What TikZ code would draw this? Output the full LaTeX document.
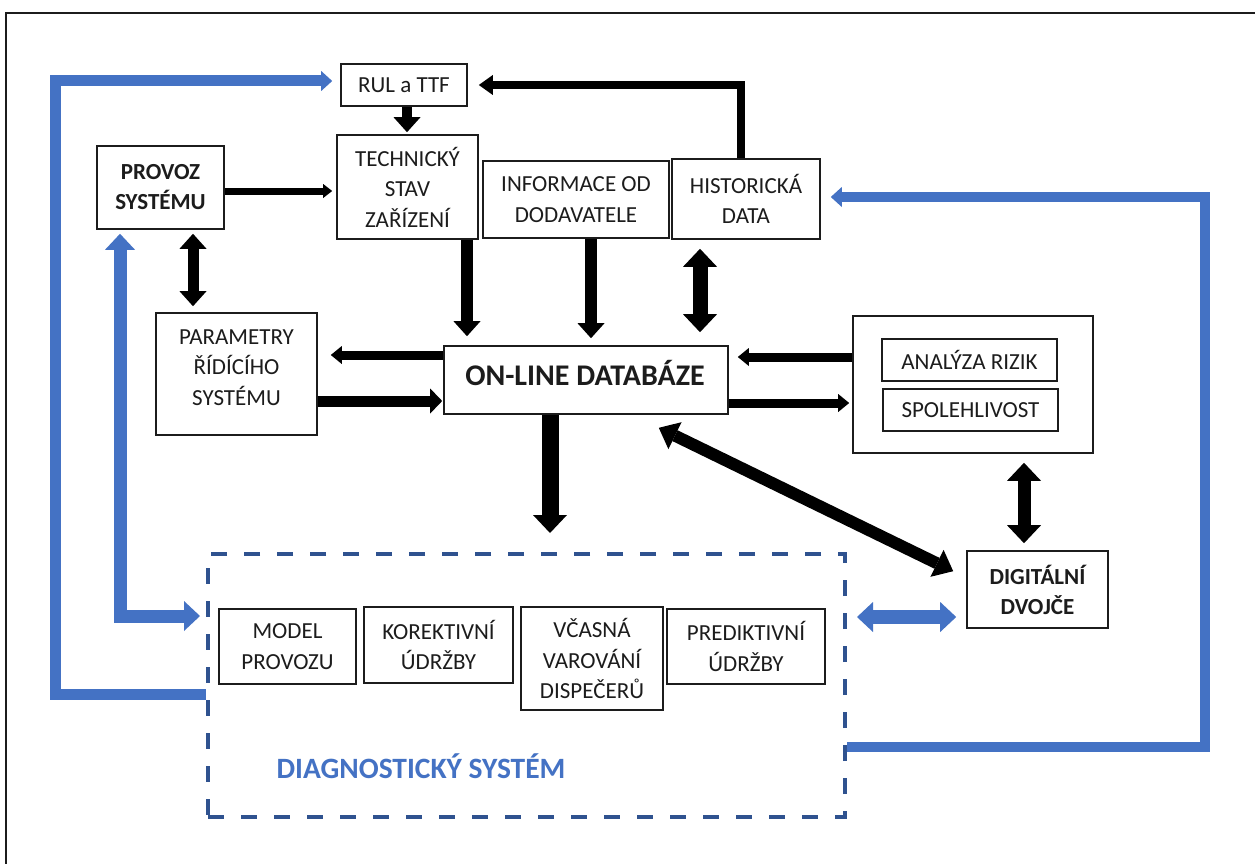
\documentclass[tikz,border=0pt]{standalone}
\usepackage{fontspec}
\setmainfont{Carlito}
\usetikzlibrary{arrows.meta,calc}
\definecolor{ofblue}{RGB}{68,114,196}
\definecolor{dashblue}{RGB}{47,82,143}
\definecolor{ink}{RGB}{28,28,28}

\tikzset{
  hd small/.tip={Triangle[length=9pt,width=14pt,line width=0pt]},
  hd hr/.tip={Triangle[length=14pt,width=20pt,line width=0pt]},
  hd mid/.tip={Triangle[length=15pt,width=27pt,line width=0pt]},
  hd big/.tip={Triangle[length=18pt,width=34pt,line width=0pt]},
  hd diag/.tip={Triangle[length=18pt,width=30pt,line width=0pt]},
  hd side/.tip={Triangle[length=11pt,width=18pt,line width=0pt]},
  hd sidewide/.tip={Triangle[length=12pt,width=25pt,line width=0pt]},
  hd blue/.tip={Triangle[length=11pt,width=20pt,line width=0pt]},
  hd bluebig/.tip={Triangle[length=16pt,width=30pt,line width=0pt]},
}

\begin{document}
\begin{tikzpicture}[x=1pt,y=-1pt,
  txt/.style={inner sep=0pt, align=center, text=ink, font=\fontsize{23}{30.5}\selectfont},
  box/.style={txt, draw=ink, line width=1.6pt, fill=white},
  boldbox/.style={box, font=\fontsize{23}{30}\selectfont\bfseries},
  groupbox/.style={draw=dashblue, line width=4pt, dash pattern=on 16pt off 17pt},
  bk/.style={draw=black, line width=#1},
  bl/.style={draw=ofblue, line width=#1},
]
\useasboundingbox (0,0) rectangle (1255,864);
\fill[white] (0,0) rectangle (1255,864);

% frame along the top and left edges
\draw[ink, line width=2.5pt] (6,864) -- (6,13) -- (1255,13);

% upper row
\node[box, minimum width=126pt, minimum height=42pt] (rul) at (404,85) {RUL a TTF};
\node[box, minimum width=141pt, minimum height=104pt] (tech) at (407.5,187) {TECHNICKÝ\\STAV\\ZAŘÍZENÍ};
\node[boldbox, minimum width=127pt, minimum height=83pt] (provoz) at (160.5,187.5) {PROVOZ\\SYSTÉMU};
\node[box, minimum width=186pt, minimum height=77pt] (info) at (576,199.5) {INFORMACE OD\\DODAVATELE};
\node[box, minimum width=148pt, minimum height=80pt] (hist) at (746,199) {HISTORICKÁ\\DATA};

% middle row
\node[box, minimum width=161pt, minimum height=122pt] (param) at (236.5,374) {};
\node[txt] (paramtext) at (236.5,367.5) {PARAMETRY\\ŘÍDÍCÍHO\\SYSTÉMU};
\node[box, minimum width=284pt, minimum height=68pt] (db) at (586,380) {};
\node[txt, font=\fontsize{30}{35}\selectfont\bfseries] (dbtext) at (585,373) {ON-LINE DATABÁZE};
\node[box, minimum width=240pt, minimum height=137pt] (risk) at (973,384.5) {};
\node[box, minimum width=175pt, minimum height=42pt] (analyza) at (969.5,360) {ANALÝZA RIZIK};
\node[box, minimum width=175pt, minimum height=42pt] (spol) at (970.5,410) {SPOLEHLIVOST};
\node[boldbox, minimum width=141pt, minimum height=77pt] (digi) at (1037.5,589.5) {DIGITÁLNÍ\\DVOJČE};

% diagnostic system group
\node[groupbox, minimum width=637pt, minimum height=263pt, inner sep=0pt] (diag) at (526.5,685.5) {};
\node[box, minimum width=137pt, minimum height=75pt] (model) at (287.5,646.5) {MODEL\\PROVOZU};
\node[box, minimum width=149pt, minimum height=76pt] (korekt) at (438.5,645) {KOREKTIVNÍ\\ÚDRŽBY};
\node[box, minimum width=142pt, minimum height=103pt] (vcasna) at (592,658.5) {VČASNÁ\\VAROVÁNÍ\\DISPEČERŮ};
\node[box, minimum width=158pt, minimum height=75pt] (predikt) at (746,646.5) {PREDIKTIVNÍ\\ÚDRŽBY};
\node[txt, text=ofblue, font=\fontsize{29.5}{35}\selectfont\bfseries] (diagtitle) at (421,766) {DIAGNOSTICKÝ SYSTÉM};

% guide coordinates for the connectors
\coordinate (xHR) at (741,0);
\coordinate (xRT) at (407,0);
\coordinate (yPT) at (0,191);
\coordinate (xPP) at (193,0);
\coordinate (xTD) at (467,0);
\coordinate (xID) at (591,0);
\coordinate (xHD) at (700,0);
\coordinate (yDP) at (0,355);
\coordinate (yPD) at (0,401);
\coordinate (yRD) at (0,357);
\coordinate (yDR) at (0,403);
\coordinate (xDG) at (550,0);
\coordinate (xRG) at (1024,0);
\coordinate (bl1) at (55,694);
\coordinate (bl2) at (55,81);
\coordinate (bp1) at (120,616);
\coordinate (br1) at (1205,747);
\coordinate (br2) at (1205,197);
\coordinate (bd) at (0,617);

% black connectors
\draw[bk=8pt, -{hd hr}, shorten >=11pt] (hist.north -| xHR) |- (rul.east);
\draw[bk=10pt, -{hd mid}, shorten >=2pt] (rul.south -| xRT) -- (tech.north -| xRT);
\draw[bk=7pt, -{hd small}, shorten >=4pt] (provoz.east |- yPT) -- (tech.west |- yPT);
\draw[bk=11pt, {hd mid}-{hd mid}, shorten <=4pt, shorten >=6pt] (provoz.south -| xPP) -- (param.north -| xPP);
\draw[bk=12pt, -{hd mid}, shorten >=9pt] (tech.south -| xTD) -- (db.north -| xTD);
\draw[bk=12pt, -{hd mid}, shorten >=7pt] (info.south -| xID) -- (db.north -| xID);
\draw[bk=15pt, {hd big}-{hd big}, shorten <=9pt, shorten >=13pt] (hist.south -| xHD) -- (db.north -| xHD);
\draw[bk=9pt, -{hd side}, shorten >=13pt] (db.west |- yDP) -- (param.east |- yDP);
\draw[bk=11pt, -{hd sidewide}, shorten >=1pt] (param.east |- yPD) -- (db.west |- yPD);
\draw[bk=9pt, -{hd side}, shorten >=9pt] (risk.west |- yRD) -- (db.east |- yRD);
\draw[bk=9pt, -{hd side}, shorten >=3pt] (db.east |- yDR) -- (risk.west |- yDR);
\draw[bk=17pt, -{hd big}, shorten >=19pt] (db.south -| xDG) -- (diag.north -| xDG);
\draw[bk=12pt, {hd diag}-{hd diag}] ([shift={(-70,13)}]db.south east) -- ([shift={(-13,21)}]digi.north west);
\draw[bk=13pt, {hd big}-{hd big}, shorten <=9pt, shorten >=7pt] (risk.south -| xRG) -- (digi.north -| xRG);

% blue feedback connectors
\draw[bl=11pt, -{hd blue}, shorten >=8pt] (diag.west |- bl1) -- (bl1) -- (bl2) -- (rul.west |- bl2);
\draw[bl=13pt, {hd bluebig}-{hd bluebig}, shorten <=4pt, shorten >=6pt] (provoz.south -| bp1) -- (bp1) -- (diag.west |- bp1);
\draw[bl=10pt, -{hd blue}, shorten >=10pt] (diag.east |- br1) -- (br1) -- (br2) -- (hist.east |- br2);
\draw[bl=14pt, {hd bluebig}-{hd bluebig}, shorten <=10pt, shorten >=10pt] (diag.east |- bd) -- (digi.west |- bd);
\end{tikzpicture}
\end{document}
